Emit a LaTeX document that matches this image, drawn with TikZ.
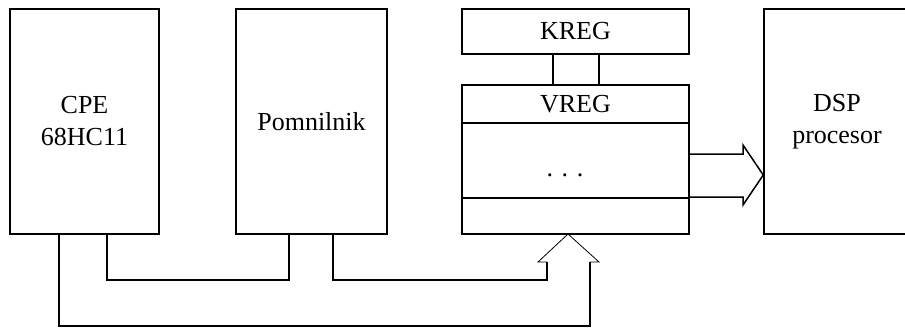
\documentclass[tikz,border=0pt]{standalone}
\usepackage{fontspec}
\setmainfont{Liberation Serif}
\begin{document}
\begin{tikzpicture}[x=1pt,y=-1pt,
  blk/.style={draw, line width=1.5pt, rectangle, inner sep=0pt, align=center,
    font=\fontsize{26}{32}\selectfont},
  wire/.style={line width=1.5pt},
  thin head/.style={line width=0.8pt, line join=miter}]
\useasboundingbox (0,0) rectangle (905,327);

% main blocks
\node[blk, minimum width=149pt, minimum height=225pt] (cpe) at (84.5,121.5) {CPE\\68HC11};
\node[blk, minimum width=151pt, minimum height=225pt] (mem) at (311.5,121.5) {Pomnilnik};
\node[blk, minimum width=227pt, minimum height=45pt] (kreg) at (575.5,31.5) {KREG};
\node[blk, minimum width=227pt, minimum height=149pt] (vreg) at (575.5,159.5) {};
\node[blk, minimum width=146pt, minimum height=225pt] (dsp) at (837,121.5) {DSP\\procesor};

% register fields inside VREG
\coordinate (f1) at (0,123);
\coordinate (f2) at (0,198);
\draw[wire] (vreg.west |- f1) -- (vreg.east |- f1);
\draw[wire] (vreg.west |- f2) -- (vreg.east |- f2);
\node[font=\fontsize{26}{32}\selectfont, inner sep=0pt] (vlabel) at (575.5,104) {VREG};
\node[font=\fontsize{26}{32}\selectfont, inner sep=0pt, anchor=base] (dots) at (565,176) {.\,\,.\,\,.};

% KREG to VREG links
\coordinate (k1) at (553,0);
\coordinate (k2) at (599,0);
\draw[wire] (kreg.south -| k1) -- (vreg.north -| k1);
\draw[wire] (kreg.south -| k2) -- (vreg.north -| k2);

% bus lines from CPE and memory
\coordinate (c1) at (59,0);
\coordinate (c2) at (107,0);
\coordinate (m1) at (289,0);
\coordinate (m2) at (333,0);
\coordinate (sl) at (547,262);
\coordinate (sr) at (590,262);
\coordinate (wl) at (538,262);
\coordinate (wr) at (599,262);
\coordinate (tip) at (568,234);
\draw[wire] (cpe.south -| c2) |- (289,280) -- (mem.south -| m1);
\draw[wire] (cpe.south -| c1) |- (590,326) -- (sr);
\draw[wire] (mem.south -| m2) |- (547,280) -- (sl);

% hollow arrow head into VREG
\draw[thin head] (sl) -- (wl) -- (tip) -- (wr) -- (sr);

% hollow arrow from VREG to DSP
\draw[wire, line join=miter] (vreg.east |- 0,154) -- (743,154) -- (743,145)
  -- (dsp.west |- 0,175) -- (743,205) -- (743,197) -- (vreg.east |- 0,197);
\end{tikzpicture}
\end{document}
